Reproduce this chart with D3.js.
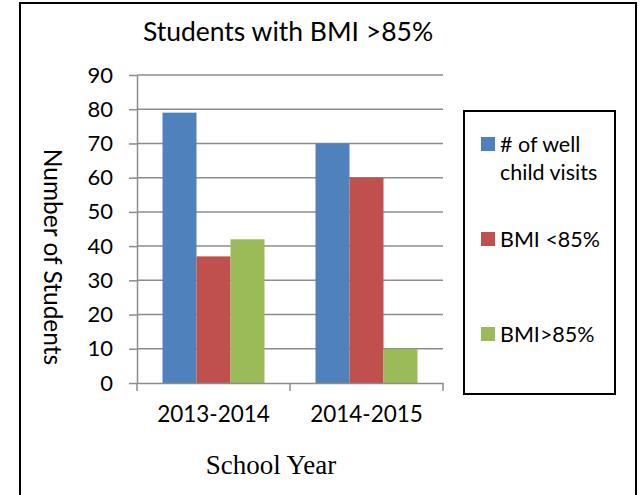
<!DOCTYPE html>
<html lang="en">
<head>
<meta charset="UTF-8">
<title>Students with BMI</title>
<style>
	body { margin: 0; background: #fff; }
	text { font-family: Lato, "Open Sans", sans-serif; fill: #000; }
</style>
<script src="https://d3js.org/d3.v7.min.js"></script>
</head>
<body>
<script type="text/javascript">
	// data
	const years = ["2013-2014", "2014-2015"];
	const seriesNames = ["# of well child visits", "BMI <85%", "BMI>85%"];
	const wellVisits = [79, 70];
	const bmiUnder = [37, 60];
	const bmiOver = [42, 10];
	const yTicks = [0, 10, 20, 30, 40, 50, 60, 70, 80, 90];
	const colors = ["#4f81bd", "#c0504d", "#9bbb59"];

	const width = 643, height = 495;
	const svg = d3.select("body").append("svg")
		.attr("width", width)
		.attr("height", height);

	// outer frame (bottom is cut off in the picture)
	svg.append("path")
		.attr("d", "M20,500 L20,3 L636,3 L636,500")
		.attr("fill", "none")
		.attr("stroke", "#000")
		.attr("stroke-width", 2);

	const plot = { left: 137, right: 443, top: 75, bottom: 383 };

	const x0 = d3.scaleBand().domain(years).range([plot.left, plot.right]).padding(0);
	const x1 = d3.scaleBand().domain(seriesNames).range([0, x0.bandwidth()]).paddingInner(0).paddingOuter(0.75);
	const y = d3.scaleLinear().domain([0, 90]).range([plot.bottom, plot.top]);

	// gridlines
	svg.append("g").selectAll("line")
		.data(yTicks.filter(d => d > 0))
		.join("line")
		.attr("x1", plot.left).attr("x2", plot.right)
		.attr("y1", d => y(d)).attr("y2", d => y(d))
		.attr("stroke", "#8c8c8c").attr("stroke-width", 1.5);

	// bars
	const rows = years.map((yr, i) => ({ year: yr, values: [wellVisits[i], bmiUnder[i], bmiOver[i]] }));
	svg.append("g").selectAll("g")
		.data(rows)
		.join("g")
		.attr("transform", d => `translate(${x0(d.year)},0)`)
		.selectAll("rect")
		.data(d => d.values.map((v, j) => ({ name: seriesNames[j], v: v, c: colors[j] })))
		.join("rect")
		.attr("x", d => x1(d.name))
		.attr("width", x1.bandwidth())
		.attr("y", d => y(d.v))
		.attr("height", d => y(0) - y(d.v))
		.attr("fill", d => d.c);

	// y axis
	const yAxis = svg.append("g")
		.attr("transform", `translate(${plot.left},0)`)
		.call(d3.axisLeft(y).tickValues(yTicks).tickSize(8).tickSizeOuter(0).tickPadding(16));
	yAxis.select(".domain").attr("stroke", "#8c8c8c").attr("stroke-width", 1.5);
	yAxis.selectAll(".tick line").attr("stroke", "#8c8c8c").attr("stroke-width", 1.5);
	yAxis.selectAll(".tick text").attr("font-size", 22).attr("font-family", "Lato").attr("fill", "#000");

	// x axis
	const xAxis = svg.append("g")
		.attr("transform", `translate(0,${plot.bottom})`)
		.call(d3.axisBottom(x0).tickSize(0).tickSizeOuter(0).tickPadding(23));
	xAxis.select(".domain").attr("stroke", "#8c8c8c").attr("stroke-width", 1.5);
	xAxis.selectAll(".tick text").attr("font-size", 22.5).attr("font-family", "Lato").attr("fill", "#000");
	// category boundary ticks
	xAxis.selectAll(".bound")
		.data([plot.left, x0(years[1]), plot.right])
		.join("line")
		.attr("x1", d => d).attr("x2", d => d)
		.attr("y1", 0).attr("y2", 8)
		.attr("stroke", "#8c8c8c").attr("stroke-width", 1.5);

	// titles
	svg.append("text")
		.attr("x", 288).attr("y", 41)
		.attr("text-anchor", "middle")
		.attr("font-size", 26.5)
		.text("Students with BMI >85%");

	svg.append("text")
		.attr("transform", "translate(44,257) rotate(90)")
		.attr("text-anchor", "middle")
		.attr("font-size", 24.5)
		.text("Number of Students");

	svg.append("text")
		.attr("x", 271).attr("y", 474)
		.attr("text-anchor", "middle")
		.style("font-family", "'Liberation Serif', 'DejaVu Serif', serif")
		.attr("font-size", 27)
		.text("School Year");

	// legend
	svg.append("rect")
		.attr("x", 464).attr("y", 111)
		.attr("width", 151).attr("height", 283)
		.attr("fill", "none").attr("stroke", "#000").attr("stroke-width", 2);

	const legendLines = [["# of well", "child visits"], ["BMI <85%"], ["BMI>85%"]];
	const legendY = [137, 232, 327];
	const lg = svg.append("g").selectAll("g")
		.data(seriesNames)
		.join("g")
		.attr("transform", (d, i) => `translate(481,${legendY[i]})`);
	lg.append("rect")
		.attr("width", 14).attr("height", 14)
		.attr("fill", (d, i) => colors[i]);
	lg.append("text")
		.attr("x", 19).attr("y", 15)
		.attr("font-size", 21.5)
		.selectAll("tspan")
		.data((d, i) => legendLines[i])
		.join("tspan")
		.attr("x", 19)
		.attr("dy", (d, k) => k === 0 ? 0 : 28)
		.text(d => d);
</script>
</body>
</html>
